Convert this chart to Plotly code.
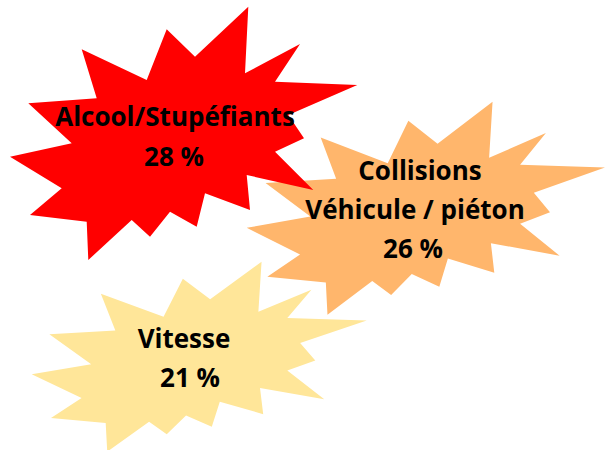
import numpy as np
import plotly.graph_objects as go

# ---- data ----
categories = ["Alcool/Stupéfiants", "Collisions<br>Véhicule / piéton", "Vitesse"]
values = [28, 26, 21]

# ---- style / layout ----
colors = ["#FF0000", "#FFB66C", "#FFE699"]
# star boxes in pixel space: (x0, y0, width, height)
boxes = [(10, 6.7, 347.3, 253.3), (246.7, 101.7, 358.3, 213), (31.7, 261.7, 335, 190)]
# label line centres: one per text line, category lines first then the value line
line_pos = [
    [(175, 119), (174, 159)],
    [(420, 173), (415, 212), (413, 251)],
    [(184, 341), (190, 380)],
]
draw_order = [1, 2, 0]

# explosion shape template (pixel trace of one burst, normalised to its box below)
tpl = np.array([
    (248.3, 6.7), (245, 73.3), (300, 44), (275, 81.7), (357.3, 85), (288.3, 115),
    (304, 138.3), (275, 151.7), (313.3, 190), (246.7, 175), (250, 210), (205, 193.3),
    (196.7, 226.7), (170, 211.7), (150, 236.7), (131.7, 220), (88.3, 260), (86.7, 221.7),
    (30, 215), (61.7, 188.3), (10, 156.7), (71.7, 143.3), (28.3, 103.3), (96.7, 98.3),
    (81.7, 49.3), (146.7, 80), (166.7, 29.3), (195, 56.7), (248.3, 6.7)
])
tx = (tpl[:, 0] - 10) / 347.3
ty = (tpl[:, 1] - 6.7) / 253.3

fig = go.Figure()
for i in draw_order:
    x0, y0, w, h = boxes[i]
    fig.add_trace(go.Scatter(
        x=x0 + tx * w, y=y0 + ty * h, mode="lines", fill="toself",
        fillcolor=colors[i], line=dict(width=0, color=colors[i]),
        hoverinfo="skip", showlegend=False,
    ))

font = dict(family="Open Sans", size=26, color="black", weight="bold")
txt, xs, ys = [], [], []
for cat, val, pos in zip(categories, values, line_pos):
    lines = cat.split("<br>") + [f"{val} %"]
    for line, (px, py) in zip(lines, pos):
        txt.append(line)
        xs.append(px)
        ys.append(py)
fig.add_trace(go.Scatter(
    x=xs, y=ys, mode="text", text=txt, textfont=font,
    showlegend=False, hoverinfo="skip",
))

fig.update_layout(
    width=606, height=450, margin=dict(l=0, r=0, t=0, b=0),
    paper_bgcolor="white", plot_bgcolor="white",
    xaxis=dict(range=[0, 606], visible=False, fixedrange=True),
    yaxis=dict(range=[450, 0], visible=False, fixedrange=True),
)
fig.write_html("out.html", config={"displayModeBar": False},
               post_script="document.body.style.margin='0';document.body.style.overflow='hidden';")
